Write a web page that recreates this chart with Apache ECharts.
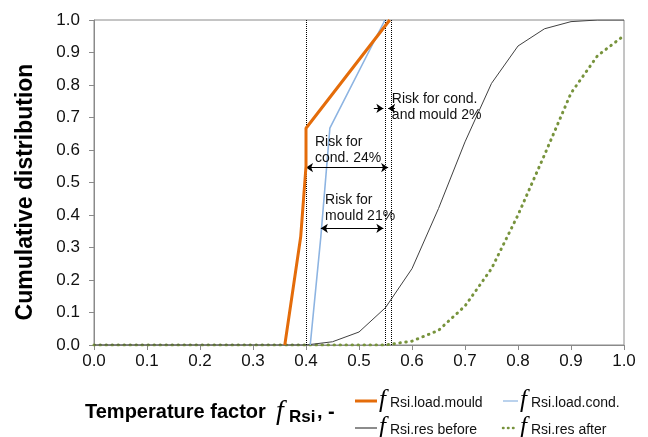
<!DOCTYPE html>
<html>
<head>
<meta charset="utf-8">
<script src="https://cdn.jsdelivr.net/npm/echarts@6/dist/echarts.min.js"></script>
<style>
  html, body { margin: 0; padding: 0; background: #fff; }
  #chart { width: 648px; height: 437px; }
</style>
</head>
<body>
<div id="chart"></div>
<script>
// ---------- data ----------
var loadMould = [[0.36, 0], [0.39, 0.333], [0.40, 0.55], [0.40, 0.667], [0.558, 1.0]];
var loadCond = [[0.408, 0], [0.428, 0.333], [0.445, 0.667], [0.549, 1.0]];
var resBefore = [[0, 0], [0.40, 0], [0.45, 0.01], [0.50, 0.04], [0.55, 0.115], [0.60, 0.235],
                 [0.65, 0.42], [0.70, 0.625], [0.75, 0.805], [0.80, 0.92], [0.85, 0.973],
                 [0.90, 0.995], [0.95, 1.0], [1.0, 1.0]];
var resAfter = [[0, 0], [0.55, 0], [0.60, 0.012], [0.65, 0.045], [0.70, 0.12], [0.75, 0.235],
                [0.80, 0.40], [0.85, 0.585], [0.90, 0.775], [0.95, 0.89], [1.0, 0.952]];

// vertical dotted limits
var limitX = [0.40, 0.546, 0.555];
// arrows: [x1, x2, y, startSymbol, endSymbol]
var arrows = [
  [0.40, 0.555, 0.546, 'arrow', 'arrow'],
  [0.428, 0.546, 0.359, 'arrow', 'arrow'],
  [0.528, 0.546, 0.728, 'none', 'arrow'],
  [0.568, 0.555, 0.728, 'none', 'arrow']
];
// annotation texts: [x, y, text]
var notes = [
  [0.417, 0.60, 'Risk for\ncond. 24%'],
  [0.436, 0.42, 'Risk for\nmould 21%'],
  [0.562, 0.731, 'Risk for cond.\nand mould 2%']
];

var names = ['fRsi.load.mould', 'fRsi.load.cond.', 'fRsi.res before', 'fRsi.res after'];
var colors = ['#E46C0A', '#8DB4E2', '#404040', '#77933C'];

var chart = echarts.init(document.getElementById('chart'), null, { renderer: 'canvas' });

var option = {
  animation: false,
  grid: { left: 94, right: 24, top: 20, bottom: 92, show: true, borderColor: '#8a8a8a', borderWidth: 1 },
  xAxis: {
    type: 'value', min: 0, max: 1, interval: 0.1,
    axisLine: { show: true, lineStyle: { color: '#8a8a8a', width: 1 } },
    axisTick: { show: true, length: 5, lineStyle: { color: '#8a8a8a' } },
    splitLine: { show: false },
    axisLabel: { fontFamily: 'Liberation Sans', fontSize: 17, color: '#111', margin: 8,
      formatter: function (v) { return v.toFixed(1); } }
  },
  yAxis: {
    type: 'value', min: 0, max: 1, interval: 0.1,
    axisLine: { show: true, lineStyle: { color: '#8a8a8a', width: 1 } },
    axisTick: { show: true, length: 5, lineStyle: { color: '#8a8a8a' } },
    splitLine: { show: false },
    axisLabel: { fontFamily: 'Liberation Sans', fontSize: 17, color: '#111', margin: 14,
      formatter: function (v) { return v.toFixed(1); } }
  },
  series: [
    {
      name: names[3], type: 'line', data: resAfter, symbol: 'none', z: 2,
      lineStyle: { color: colors[3], width: 3, type: [0.5, 5.5], cap: 'round' }
    },
    {
      name: names[2], type: 'line', data: resBefore, symbol: 'none', z: 3,
      lineStyle: { color: colors[2], width: 1 }
    },
    {
      name: names[1], type: 'line', data: loadCond, symbol: 'none', z: 4,
      lineStyle: { color: colors[1], width: 1.6 }
    },
    {
      name: names[0], type: 'line', data: loadMould, symbol: 'none', z: 5,
      lineStyle: { color: colors[0], width: 3 }
    },
    {
      name: 'limits', type: 'line', data: [], z: 6,
      markLine: {
        silent: true, symbol: 'none', animation: false,
        label: { show: false },
        lineStyle: { color: '#000', width: 1, type: 'dotted' },
        data: limitX.map(function (x) { return { xAxis: x }; })
      }
    },
    {
      name: 'arrows', type: 'line', data: [], z: 7,
      markLine: {
        silent: true, animation: false, symbolSize: [7, 7],
        label: { show: false },
        lineStyle: { color: '#000', width: 1, type: 'solid' },
        data: arrows.map(function (a) {
          return [
            { coord: [a[0], a[2]], symbol: a[3] },
            { coord: [a[1], a[2]], symbol: a[4] }
          ];
        })
      }
    }
  ]
};
chart.setOption(option);

var sans = 'Liberation Sans';
var serif = 'Liberation Serif';

// axis titles
var graphics = [
  {
    type: 'text', x: 26, y: 192, rotation: Math.PI / 2,
    style: { text: 'Cumulative distribution', fontFamily: sans, fontWeight: 'bold',
      fontSize: 23, fill: '#000', align: 'center', verticalAlign: 'middle' }
  },
  { type: 'text', x: 85, y: 412,
    style: { text: 'Temperature factor', fontFamily: sans, fontWeight: 'bold', fontSize: 20, fill: '#000', verticalAlign: 'middle' } },
  { type: 'text', x: 276, y: 412,
    style: { text: 'f', fontFamily: serif, fontStyle: 'italic', fontSize: 28, fill: '#000', verticalAlign: 'middle' } },
  { type: 'text', x: 289, y: 417,
    style: { text: 'Rsi', fontFamily: sans, fontWeight: 'bold', fontSize: 17, fill: '#000', verticalAlign: 'middle' } },
  { type: 'text', x: 317, y: 412,
    style: { text: ', -', fontFamily: sans, fontWeight: 'bold', fontSize: 20, fill: '#000', verticalAlign: 'middle' } }
];

// legend (2 x 2)
var legendPos = [[355, 401, 22], [503, 401, 15], [355, 428, 22], [503, 428, 15]];
names.forEach(function (name, i) {
  var lp = legendPos[i];
  var dash = i === 3 ? [0.5, 4.5] : null;
  graphics.push({
    type: 'line', shape: { x1: lp[0], y1: lp[1], x2: lp[0] + lp[2], y2: lp[1] },
    style: { stroke: colors[i], lineWidth: i === 0 ? 3 : (i === 3 ? 2.5 : 1.2), lineDash: dash, lineCap: dash ? 'round' : 'butt' }
  });
  graphics.push({
    type: 'text', x: lp[0] + lp[2] + 2, y: lp[1] - 1,
    style: { text: 'f', fontFamily: serif, fontStyle: 'italic', fontSize: 25, fill: '#000', verticalAlign: 'middle' }
  });
  graphics.push({
    type: 'text', x: lp[0] + lp[2] + 13, y: lp[1] + 2,
    style: { text: name.slice(1), fontFamily: sans, fontSize: 14, fill: '#111', verticalAlign: 'middle' }
  });
});

// annotation texts placed through the axes
notes.forEach(function (n) {
  var p = chart.convertToPixel({ gridIndex: 0 }, [n[0], n[1]]);
  graphics.push({
    type: 'text', x: p[0], y: p[1], z: 10,
    style: { text: n[2], fontFamily: sans, fontSize: 14, lineHeight: 16,
      fill: '#111', align: 'left', verticalAlign: 'middle' }
  });
});
chart.setOption({ graphic: graphics });
</script>
</body>
</html>
